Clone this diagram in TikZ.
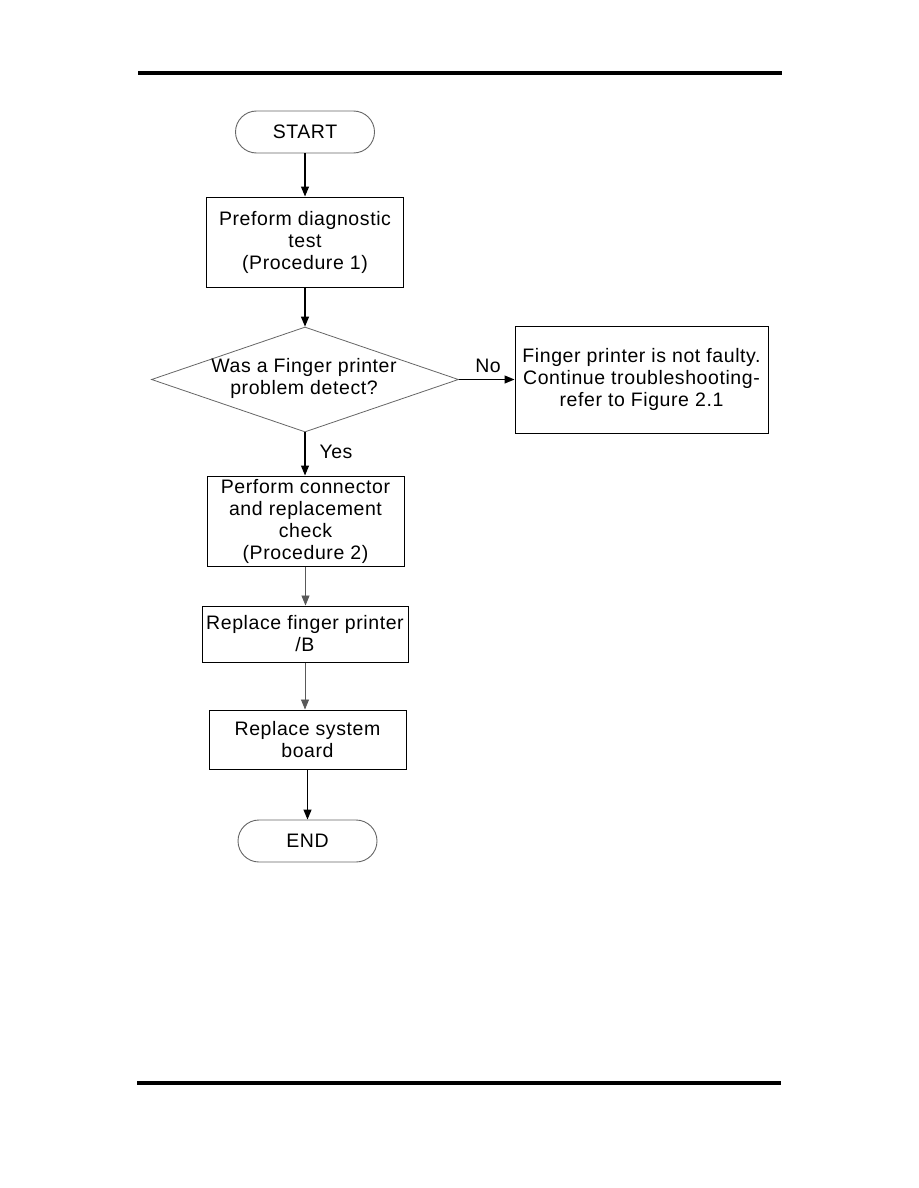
\documentclass[tikz,border=0pt]{standalone}
\usepackage{fontspec}
\setmainfont{Liberation Sans}[LetterSpace=3]
\usetikzlibrary{arrows.meta,shapes.geometric}
\begin{document}
\begin{tikzpicture}[x=1pt,y=-1pt,
  every node/.style={font=\fontsize{19.5}{22}\selectfont},
  term/.style={draw=black!60,line width=0.9pt,rounded corners=21pt,minimum width=139pt,minimum height=42pt,inner sep=0pt},
  procbox/.style={draw=black,line width=1pt,align=center,inner sep=0pt},
  dec/.style={draw=black!60,line width=0.8pt,diamond,minimum width=307pt,minimum height=105pt,inner sep=0pt},
  flow/.style={draw=black,line width=1.2pt,-{Triangle[width=8pt,length=10pt]}},
  flowthin/.style={draw=black!65,line width=0.8pt,-{Triangle[width=8pt,length=10pt]}},
  lab/.style={inner sep=0pt}
]
\useasboundingbox (0,0) rectangle (918,1188);
\fill[white] (0,0) rectangle (918,1188);
% page rules
\coordinate (tl) at (138,73);
\coordinate (tr) at (782,73);
\coordinate (bl) at (137,1083);
\coordinate (br) at (781,1083);
\draw[line width=3.2pt] (tl) -- (tr);
\draw[line width=3.2pt] (bl) -- (br);

\node[term] (start) at (305,132) {START};
\node[procbox,minimum width=197pt,minimum height=90pt] (p1) at (305,242) {Preform diagnostic\\test\\(Procedure 1)};
\node[dec] (d) at (305,379.5) {};
\node[lab,align=center] (dt) at (304,378.5) {Was a Finger printer\\problem detect?};
\node[procbox,minimum width=253pt,minimum height=107pt] (nf) at (641.5,379.5) {Finger printer is not faulty.\\Continue troubleshooting-\\refer to Figure 2.1};
\node[procbox,minimum width=197pt,minimum height=90pt] (p2) at (305.5,521) {Perform connector\\and replacement\\check\\(Procedure 2)};
\node[procbox,minimum width=206pt,minimum height=56pt] (p3) at (305,634) {Replace finger printer\\/B};
\node[procbox,minimum width=197pt,minimum height=59pt] (p4) at (307.5,739.5) {Replace system\\board};
\node[term] (end) at (307.5,841) {END};

\draw[flow] (start.south) -- (p1.north);
\draw[flow] (p1.south) -- (d.north);
\draw[flow] (d.east) -- (nf.west);
\draw[flow] (d.south) -- (d.south |- p2.north);
\draw[flowthin] (p2.south) -- (p2.south |- p3.north);
\draw[flowthin] (p3.south) -- (p3.south |- p4.north);
\draw[flow] (p4.south) -- (end.north);

\node[lab] (no) at (488,366) {No};
\node[lab] (yes) at (336,452) {Yes};
\end{tikzpicture}
\end{document}
